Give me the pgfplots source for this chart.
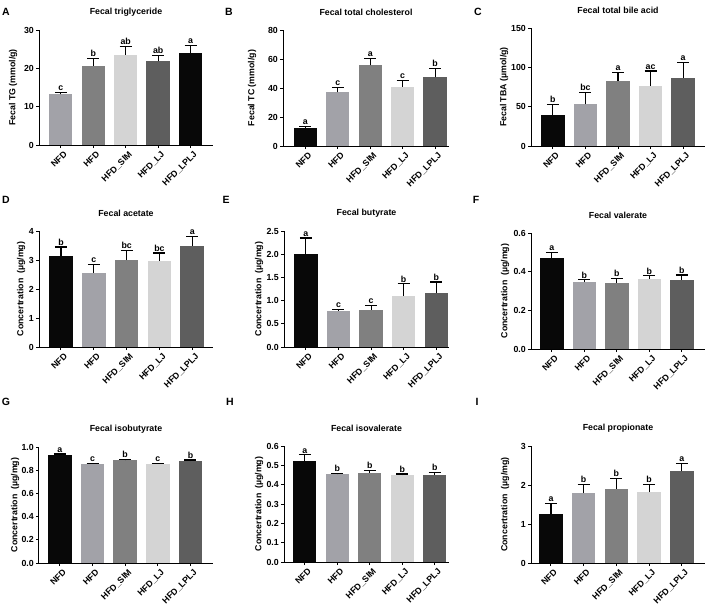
\documentclass[border=0pt]{standalone}
\usepackage{fontspec}
\setmainfont{Liberation Sans}
\usepackage{pgfplots}
\pgfplotsset{compat=1.18}
\definecolor{cK}{HTML}{080808}
\definecolor{cM}{HTML}{A2A2A8}
\definecolor{cG}{HTML}{808080}
\definecolor{cL}{HTML}{D4D4D4}
\definecolor{cD}{HTML}{5E5E5E}
\newcommand{\tf}{\fontsize{8.8}{10}\selectfont\bfseries}
\pgfplotsset{
 gp/.style={
  scale only axis, anchor=south west,
  axis lines*=left, axis line style={line width=1pt, black},
  tick align=outside, major tick length=3pt, tick style={line width=1pt, black},
  minor tick num=0,
  ymin=0, xtick={0,1,2,3,4}, xticklabels={NFD,HFD,HFD\_SIM,HFD\_LJ,HFD\_LPLJ},
  xticklabel style={xshift=2.5pt, yshift=-1pt, rotate=45, anchor=north east, inner sep=1pt, font=\tf},
  yticklabel style={font=\tf, inner sep=2pt},
  /pgf/number format/assume math mode=true,
  title style={font=\tf, at={(0.5,1)}, anchor=center, yshift=12pt},
  ylabel style={font=\tf},
  enlargelimits=false, clip=false,
 },
 yl/.style={ylabel style={at={([xshift=-#1]rel axis cs:0,0.5)}, anchor=center}},
 dec/.style={yticklabel style={/pgf/number format/.cd, fixed, fixed zerofill, precision=1}},
 bb/.style={ybar, bar width=0.72, bar shift=0pt, fill=#1, draw=none,
  error bars/.cd, y dir=plus, y explicit,
  error bar style={line width=1.1pt, black},
  error mark options={rotate=90, line width=1.1pt, black, mark size=6pt}},
 lab/.style={draw=none, mark=none, nodes near coords, point meta=explicit symbolic,
  nodes near coords style={anchor=south, inner sep=1.5pt, font=\tf, text=black}},
}
\begin{document}
\begin{tikzpicture}
\useasboundingbox (0,0) rectangle (708pt,-608pt);
\tikzset{pl/.style={font=\fontsize{10.5}{12}\selectfont\bfseries, anchor=center}}
\node[pl] at (6pt,-12pt) {A};
\node[pl] at (229pt,-12pt) {B};
\node[pl] at (478pt,-12pt) {C};
\node[pl] at (6pt,-200pt) {D};
\node[pl] at (226pt,-200pt) {E};
\node[pl] at (476pt,-200pt) {F};
\node[pl] at (6pt,-402pt) {G};
\node[pl] at (230pt,-402pt) {H};
\node[pl] at (477pt,-402pt) {I};

% A
\begin{axis}[gp, yl=26pt, at={(39pt,-145pt)}, width=174pt, height=115pt,
  xmin=-0.67, xmax=4.69, ymax=30, ytick={0,10,20,30},
  title={Fecal triglyceride}, ylabel={Fecal TG (mmol/g)}]
\addplot[bb=cM] coordinates {(0,13.2) +- (0,0.5)};
\addplot[bb=cG] coordinates {(1,20.7) +- (0,1.9)};
\addplot[bb=cL] coordinates {(2,23.6) +- (0,2.2)};
\addplot[bb=cD] coordinates {(3,21.8) +- (0,1.6)};
\addplot[bb=cK] coordinates {(4,24.1) +- (0,1.8)};
\addplot[lab] coordinates {(0,13.7)[c] (1,22.6)[b] (2,25.8)[ab] (3,23.4)[ab] (4,25.9)[a]};
\end{axis}
% B
\begin{axis}[gp, yl=31pt, at={(283pt,-146pt)}, width=166pt, height=116pt,
  xmin=-0.69, xmax=4.43, ymax=80, ytick={0,20,40,60,80},
  title={Fecal total cholesterol}, ylabel={Fecal TC (mmol/g)}]
\addplot[bb=cK] coordinates {(0,12.7) +- (0,0.9)};
\addplot[bb=cM] coordinates {(1,37.0) +- (0,3.2)};
\addplot[bb=cG] coordinates {(2,55.6) +- (0,4.6)};
\addplot[bb=cL] coordinates {(3,40.9) +- (0,4.1)};
\addplot[bb=cD] coordinates {(4,47.4) +- (0,5.9)};
\addplot[lab] coordinates {(0,13.6)[a] (1,40.2)[c] (2,60.2)[a] (3,45.0)[c] (4,53.3)[b]};
\end{axis}
% C
\begin{axis}[gp, yl=27pt, at={(531pt,-146pt)}, width=174pt, height=118pt,
  xmin=-0.67, xmax=4.67, ymax=150, ytick={0,50,100,150},
  title={Fecal total bile acid}, ylabel={Fecal TBA (µmol/g)}]
\addplot[bb=cK] coordinates {(0,40.0) +- (0,12.8)};
\addplot[bb=cM] coordinates {(1,53.3) +- (0,14.4)};
\addplot[bb=cG] coordinates {(2,83.0) +- (0,10.3)};
\addplot[bb=cL] coordinates {(3,76.3) +- (0,19.1)};
\addplot[bb=cD] coordinates {(4,86.5) +- (0,19.5)};
\addplot[lab] coordinates {(0,52.8)[b] (1,67.7)[bc] (2,93.3)[a] (3,95.4)[ac] (4,106)[a]};
\end{axis}
% D
\begin{axis}[gp, yl=18pt, at={(39pt,-347pt)}, width=174pt, height=116pt,
  xmin=-0.67, xmax=4.63, ymax=4, ytick={0,1,2,3,4},
  title={Fecal acetate}, ylabel={Concertration\ \ (µg/mg)}]
\addplot[bb=cK] coordinates {(0,3.15) +- (0,0.30)};
\addplot[bb=cM] coordinates {(1,2.56) +- (0,0.29)};
\addplot[bb=cG] coordinates {(2,3.00) +- (0,0.33)};
\addplot[bb=cL] coordinates {(3,2.97) +- (0,0.27)};
\addplot[bb=cD] coordinates {(4,3.49) +- (0,0.32)};
\addplot[lab] coordinates {(0,3.45)[b] (1,2.85)[c] (2,3.33)[bc] (3,3.24)[bc] (4,3.81)[a]};
\end{axis}
% E
\begin{axis}[gp, dec, yl=25pt, at={(284pt,-347pt)}, width=165pt, height=116pt,
  xmin=-0.67, xmax=4.39, ymax=2.5, ytick={0,0.5,1,1.5,2,2.5},
  title={Fecal butyrate}, ylabel={Concertration\ \ (µg/mg)}]
\addplot[bb=cK] coordinates {(0,2.00) +- (0,0.35)};
\addplot[bb=cM] coordinates {(1,0.78) +- (0,0.03)};
\addplot[bb=cG] coordinates {(2,0.80) +- (0,0.09)};
\addplot[bb=cL] coordinates {(3,1.11) +- (0,0.25)};
\addplot[bb=cD] coordinates {(4,1.16) +- (0,0.24)};
\addplot[lab] coordinates {(0,2.35)[a] (1,0.81)[c] (2,0.89)[c] (3,1.36)[b] (4,1.40)[b]};
\end{axis}
% F
\begin{axis}[gp, dec, yl=26pt, at={(531pt,-349pt)}, width=174pt, height=116pt,
  xmin=-0.64, xmax=4.71, ymax=0.6, ytick={0,0.2,0.4,0.6},
  title={Fecal valerate}, ylabel={Concertration\ \ (µg/mg)}]
\addplot[bb=cK] coordinates {(0,0.471) +- (0,0.030)};
\addplot[bb=cM] coordinates {(1,0.346) +- (0,0.012)};
\addplot[bb=cG] coordinates {(2,0.344) +- (0,0.022)};
\addplot[bb=cL] coordinates {(3,0.364) +- (0,0.014)};
\addplot[bb=cD] coordinates {(4,0.358) +- (0,0.025)};
\addplot[lab] coordinates {(0,0.501)[a] (1,0.358)[b] (2,0.366)[b] (3,0.378)[b] (4,0.383)[b]};
\end{axis}
% G
\begin{axis}[gp, dec, yl=24pt, at={(39pt,-563pt)}, width=174pt, height=116pt,
  xmin=-0.64, xmax=4.69, ymax=1, ytick={0,0.2,0.4,0.6,0.8,1},
  title={Fecal isobutyrate}, ylabel={Concertration\ \ (µg/mg)}]
\addplot[bb=cK] coordinates {(0,0.931) +- (0,0.009)};
\addplot[bb=cM] coordinates {(1,0.856) +- (0,0.004)};
\addplot[bb=cG] coordinates {(2,0.885) +- (0,0.009)};
\addplot[bb=cL] coordinates {(3,0.856) +- (0,0.002)};
\addplot[bb=cD] coordinates {(4,0.879) +- (0,0.009)};
\addplot[lab] coordinates {(0,0.940)[a] (1,0.860)[c] (2,0.894)[b] (3,0.858)[c] (4,0.888)[b]};
\end{axis}
% H
\begin{axis}[gp, dec, yl=25pt, at={(284pt,-562pt)}, width=165pt, height=116pt,
  xmin=-0.64, xmax=4.44, ymax=0.6, ytick={0,0.1,0.2,0.3,0.4,0.5,0.6},
  title={Fecal isovalerate}, ylabel={Concertration\ \ (µg/mg)}]
\addplot[bb=cK] coordinates {(0,0.521) +- (0,0.033)};
\addplot[bb=cM] coordinates {(1,0.453) +- (0,0.007)};
\addplot[bb=cG] coordinates {(2,0.462) +- (0,0.012)};
\addplot[bb=cL] coordinates {(3,0.450) +- (0,0.005)};
\addplot[bb=cD] coordinates {(4,0.450) +- (0,0.012)};
\addplot[lab] coordinates {(0,0.554)[a] (1,0.460)[b] (2,0.474)[b] (3,0.455)[b] (4,0.462)[b]};
\end{axis}
% I
\begin{axis}[gp, yl=26pt, at={(531pt,-563pt)}, width=174pt, height=117pt,
  xmin=-0.61, xmax=4.71, ymax=3, ytick={0,1,2,3},
  title={Fecal propionate}, ylabel={Concertration\ \ (µg/mg)}]
\addplot[bb=cK] coordinates {(0,1.25) +- (0,0.27)};
\addplot[bb=cM] coordinates {(1,1.79) +- (0,0.23)};
\addplot[bb=cG] coordinates {(2,1.90) +- (0,0.26)};
\addplot[bb=cL] coordinates {(3,1.82) +- (0,0.19)};
\addplot[bb=cD] coordinates {(4,2.35) +- (0,0.20)};
\addplot[lab] coordinates {(0,1.52)[a] (1,2.02)[b] (2,2.16)[b] (3,2.02)[b] (4,2.55)[a]};
\end{axis}
\end{tikzpicture}
\end{document}
